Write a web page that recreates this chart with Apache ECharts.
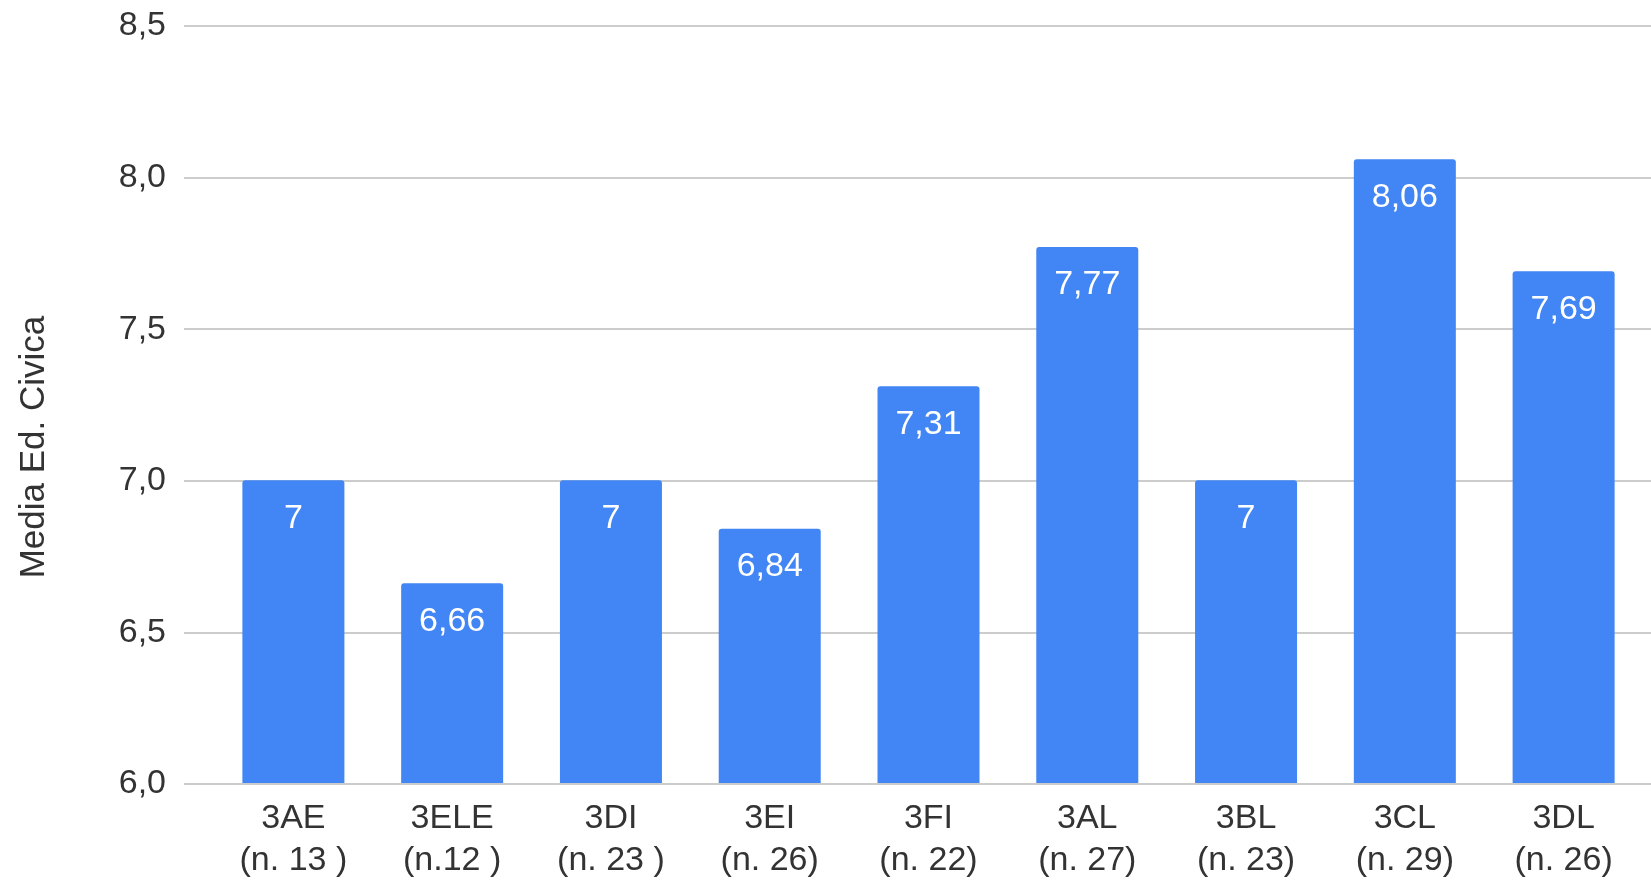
<!DOCTYPE html>
<html>
<head>
<meta charset="utf-8">
<title>Media Ed. Civica</title>
<script src="https://cdn.jsdelivr.net/npm/echarts@6/dist/echarts.min.js"></script>
<style>
  html, body { margin: 0; padding: 0; background: #fff; }
  #chart { width: 1651px; height: 882px; }
</style>
</head>
<body>
<div id="chart"></div>
<script>
// classi e numero alunni
const classi = ['3AE', '3ELE', '3DI', '3EI', '3FI', '3AL', '3BL', '3CL', '3DL']
const alunni = ['(n. 13 )', '(n.12 )', '(n. 23 )', '(n. 26)', '(n. 22)', '(n. 27)', '(n. 23)', '(n. 29)', '(n. 26)']
// media ed. civica
const medie = [7, 6.66, 7, 6.84, 7.31, 7.77, 7, 8.06, 7.69]
// asse y
const yMin = 6
const yMax = 8.5
const yStep = 0.5

const fontName = 'Liberation Sans, Arial, sans-serif'
const virgola = (v) => String(v).replace('.', ',')

const chart = echarts.init(document.getElementById('chart'))

const option = {
  animation: false,
  textStyle: { fontFamily: fontName },
  grid: [
    // griglia per le linee orizzontali e le etichette
    { left: 184, right: 0, top: 26, bottom: 98 },
    // griglia per le barre
    { left: 214, right: 8, top: 26, bottom: 98 }
  ],
  xAxis: [
    { gridIndex: 0, type: 'value', min: 0, max: 1, show: false },
    {
      gridIndex: 1,
      type: 'category',
      data: classi.map((c, i) => c + '\n' + alunni[i]),
      axisLine: { show: false },
      axisTick: { show: false },
      axisLabel: {
        color: '#333',
        fontSize: 34,
        lineHeight: 42,
        margin: 15,
        interval: 0,
        fontFamily: fontName
      }
    }
  ],
  yAxis: [
    {
      gridIndex: 0,
      type: 'value',
      min: yMin,
      max: yMax,
      interval: yStep,
      name: 'Media Ed. Civica',
      nameLocation: 'middle',
      nameGap: 132,
      nameRotate: 90,
      nameTextStyle: { color: '#333', fontSize: 35, fontFamily: fontName, padding: [0, 84, 0, 0] },
      axisLine: { show: false },
      axisTick: { show: false },
      axisLabel: {
        color: '#333',
        fontSize: 34,
        margin: 18,
        fontFamily: fontName,
        formatter: (v) => v.toFixed(1).replace('.', ',')
      },
      splitLine: { lineStyle: { color: '#cccccc', width: 2 } }
    },
    { gridIndex: 1, type: 'value', min: yMin, max: yMax, show: false }
  ],
  series: [
    {
      name: 'Media Ed. Civica',
      type: 'bar',
      xAxisIndex: 1,
      yAxisIndex: 1,
      data: medie,
      barWidth: 102,
      itemStyle: { color: '#4285f4', borderRadius: [3, 3, 0, 0] },
      label: {
        show: true,
        position: 'insideTop',
        distance: 21,
        color: '#fff',
        fontSize: 34,
        fontFamily: fontName,
        formatter: (p) => virgola(p.value)
      }
    }
  ]
}

chart.setOption(option)
</script>
</body>
</html>
